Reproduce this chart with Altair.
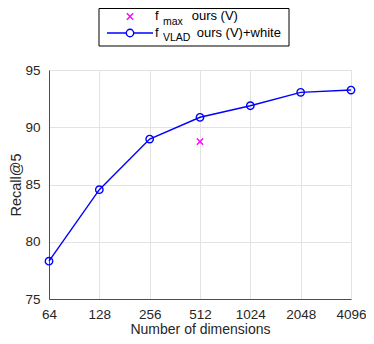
import altair as alt
import pandas as pd

# ---- data ----
dims = [64, 128, 256, 512, 1024, 2048, 4096]
vlad_white = [78.3, 84.55, 88.97, 90.87, 91.88, 93.05, 93.25]
max_dims = [512]
max_vals = [88.74]
y_ticks = [75, 80, 85, 90, 95]

legend_row1 = ["f", "max", "ours (V)"]
legend_row2 = ["f", "VLAD", "ours (V)+white"]

FONT = "Liberation Sans"
TXT = "#262626"
AX = "#4d4d4d"
BLUE = "#0000ff"
MAG = "#ff00ff"
XSHAPE = "M-1,-1L1,1M-1,1L1,-1"

df = pd.DataFrame({"dims": dims, "recall": vlad_white})
dfm = pd.DataFrame({"dims": max_dims, "recall": max_vals})

xs = alt.Scale(type="log", base=2, domain=[64, 4096], nice=False)
ys = alt.Scale(domain=[75, 95], nice=False, zero=False)

PL = 41   # left padding (plot left at page x 49)
W = 302
H = 229

xax = alt.Axis(values=dims, format="d", title="Number of dimensions", grid=True,
               ticks=False, labelPadding=8, titleY=30, titleBaseline="middle",
               labelFontSize=13.5, titleFontSize=14, labelFont=FONT, titleFont=FONT,
               labelColor=TXT, titleColor=TXT, titleFontWeight="normal",
               domainColor=AX, gridColor="#e3e3e3", labelFlush=False)
yax = alt.Axis(values=y_ticks, title="Recall@5", grid=True, ticks=False,
               labelPadding=9, titleX=-33, titleY=H / 2,
               titleAlign="center", titleBaseline="middle",
               labelFontSize=13.5, titleFontSize=14.5, labelFont=FONT, titleFont=FONT,
               labelColor=TXT, titleColor=TXT, titleFontWeight="normal",
               domainColor=AX, gridColor="#e3e3e3", labelFlush=False)

X = alt.X("dims:Q", scale=xs, axis=xax)
Y = alt.Y("recall:Q", scale=ys, axis=yax)

line = alt.Chart(df).mark_line(color=BLUE, strokeWidth=1.4).encode(x=X, y=Y)
pts = alt.Chart(df).mark_point(shape="circle", filled=False, color=BLUE, size=55,
                               strokeWidth=1.4, opacity=1).encode(x=X, y=Y)
mx = alt.Chart(dfm).mark_point(shape=XSHAPE, filled=False, color=MAG, size=40,
                               strokeWidth=1.4, opacity=1).encode(x=X, y=Y)

one = alt.Data(values=[{"a": 1}])

def txt(t, x, y, size):
    return alt.Chart(one).mark_text(text=t, align="left", baseline="alphabetic",
                                    fontSize=size, font=FONT, color="#000000").encode(
        x=alt.value(x), y=alt.value(y))

OX = 49 - 47  # shift legend coordinates to the plot origin
R1 = -53.5    # row 1 centre (relative to plot top)
R2 = -37.0    # row 2 centre

box = alt.Chart(one).mark_rect(fill="white", stroke="#000000", strokeWidth=1).encode(
    x=alt.value(52 - OX), x2=alt.value(242 - OX), y=alt.value(-61.5), y2=alt.value(-24))
leg_x = alt.Chart(one).mark_point(shape=XSHAPE, filled=False, color=MAG, size=40,
                                  strokeWidth=1.4, opacity=1).encode(
    x=alt.value(83 - OX), y=alt.value(R1))
leg_line = alt.Chart(one).mark_rule(color=BLUE, strokeWidth=1.4).encode(
    x=alt.value(60 - OX), x2=alt.value(106 - OX), y=alt.value(R2))
leg_c = alt.Chart(one).mark_point(shape="circle", filled=False, color=BLUE, size=55,
                                  strokeWidth=1.4, opacity=1, fill="white").encode(
    x=alt.value(83 - OX), y=alt.value(R2))

layers = [line, pts, mx, box, leg_x, leg_line, leg_c,
          txt(legend_row1[0], 108 - OX, R1 + 3.5, 13),
          txt(legend_row1[1], 116 - OX, R1 + 8, 10.5),
          txt(legend_row1[2], 144.7 - OX, R1 + 3.5, 13),
          txt(legend_row2[0], 108 - OX, R2 + 3.5, 13),
          txt(legend_row2[1], 116 - OX, R2 + 8, 10.5),
          txt(legend_row2[2], 149.7 - OX, R2 + 3.5, 13)]

chart = alt.layer(*layers).properties(
    width=W, height=H,
    padding={"left": PL, "top": 62, "right": 358 - PL - W, "bottom": 328 - 62 - H},
    autosize=alt.AutoSizeParams(type="none"),
).configure_view(stroke=AX, strokeWidth=1).configure(background="white")

chart.save("out.html", embed_options={"renderer": "svg", "actions": False})
